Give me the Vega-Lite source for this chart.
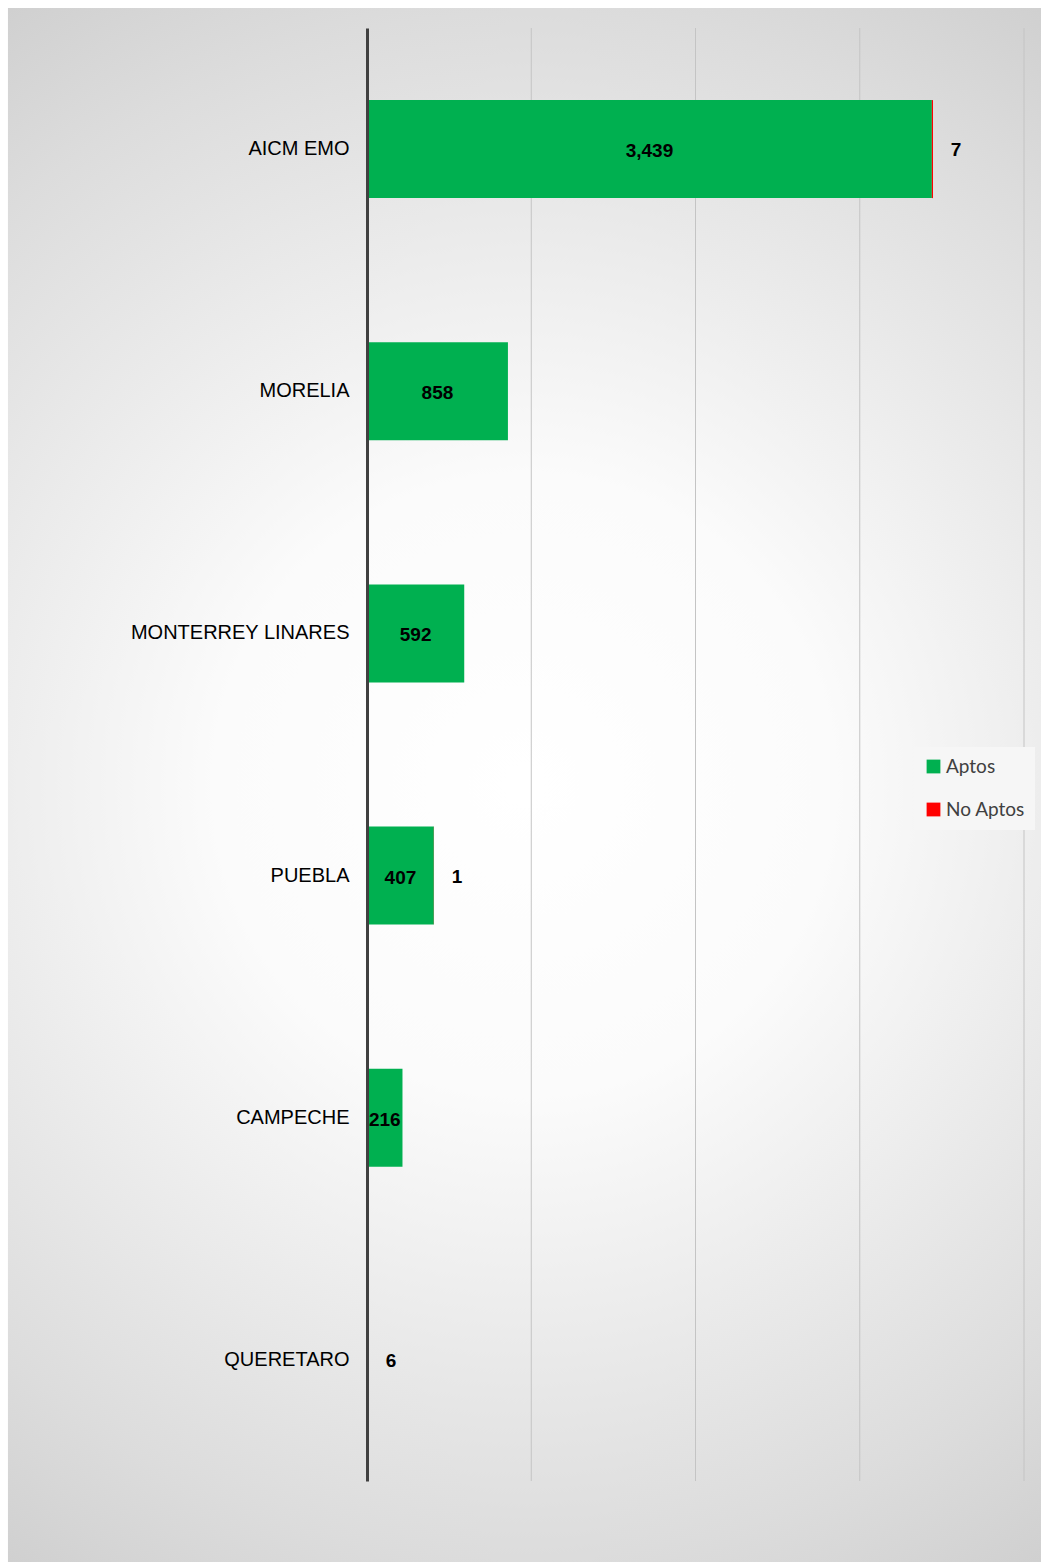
{
  "$schema": "https://vega.github.io/schema/vega-lite/v6.json",
  "width": 657,
  "height": 1453,
  "autosize": {"type": "none"},
  "padding": {"left": 367, "top": 28, "right": 17, "bottom": 81},
  "background": "#ffffff",
  "config": {"view": {"stroke": null}, "font": "Liberation Sans"},
  "datasets": {
    "main": [
      {"cat": "AICM EMO", "tipo": "Aptos", "valor": 3439},
      {"cat": "AICM EMO", "tipo": "No Aptos", "valor": 7},
      {"cat": "MORELIA", "tipo": "Aptos", "valor": 858},
      {"cat": "MORELIA", "tipo": "No Aptos", "valor": 0},
      {"cat": "MONTERREY LINARES", "tipo": "Aptos", "valor": 592},
      {"cat": "MONTERREY LINARES", "tipo": "No Aptos", "valor": 0},
      {"cat": "PUEBLA", "tipo": "Aptos", "valor": 407},
      {"cat": "PUEBLA", "tipo": "No Aptos", "valor": 1},
      {"cat": "CAMPECHE", "tipo": "Aptos", "valor": 216},
      {"cat": "CAMPECHE", "tipo": "No Aptos", "valor": 0},
      {"cat": "QUERETARO", "tipo": "Aptos", "valor": 6},
      {"cat": "QUERETARO", "tipo": "No Aptos", "valor": 0}
    ],
    "grid": [{"g": 1000}, {"g": 2000}, {"g": 3000}, {"g": 4000}]
  },
  "resolve": {"scale": {"x": "independent", "y": "independent"}},
  "layer": [
    {
      "data": {"values": [{}]},
      "mark": {
        "type": "rect",
        "color": {
          "gradient": "radial",
          "x1": 0.5, "y1": 0.5, "r1": 0,
          "x2": 0.5, "y2": 0.5, "r2": 0.71,
          "stops": [
            {"offset": 0, "color": "#ffffff"},
            {"offset": 0.28, "color": "#fbfbfb"},
            {"offset": 0.7, "color": "#dcdcdc"},
            {"offset": 1, "color": "#c3c3c3"}
          ]
        }
      },
      "encoding": {
        "x": {"datum": -2186, "type": "quantitative", "scale": {"domain": [0, 4000], "nice": false}, "axis": null},
        "x2": {"datum": 4104},
        "y": {"datum": 1.0138, "type": "quantitative", "scale": {"domain": [0, 1], "nice": false}, "axis": null},
        "y2": {"datum": -0.0558}
      }
    },
    {
      "data": {"name": "grid"},
      "mark": {"type": "rule", "color": "#c4c4c4", "strokeWidth": 1},
      "encoding": {
        "x": {"field": "g", "type": "quantitative", "scale": {"domain": [0, 4000], "nice": false}, "axis": null}
      }
    },
    {
      "data": {"name": "main"},
      "mark": {"type": "bar"},
      "encoding": {
        "x": {"field": "valor", "type": "quantitative", "stack": "zero", "scale": {"domain": [0, 4000], "nice": false}, "axis": null},
        "y": {
          "field": "cat", "type": "nominal",
          "scale": {"domain": ["AICM EMO", "MORELIA", "MONTERREY LINARES", "PUEBLA", "CAMPECHE", "QUERETARO"], "paddingInner": 0.5953, "paddingOuter": 0.2977},
          "axis": {
            "title": null, "ticks": false, "grid": false,
            "domainColor": "#404040", "domainWidth": 3,
            "labelFont": "Liberation Sans", "labelFontSize": 20, "labelColor": "#000000",
            "labelPadding": 18, "labelLimit": 400, "zindex": 1
          }
        },
        "color": {
          "field": "tipo", "type": "nominal",
          "scale": {"domain": ["Aptos", "No Aptos"], "range": ["#00B050", "#FF0000"]},
          "legend": {
            "title": null, "orient": "none", "legendX": 547, "legendY": 719,
            "fillColor": "#f6f6f6", "padding": 10, "rowPadding": 23,
            "symbolType": "square", "symbolSize": 190, "symbolStrokeWidth": 0,
            "labelFont": "Lato", "labelFontSize": 19, "labelColor": "#404040", "labelOffset": 3
          }
        }
      }
    },
    {
      "data": {"name": "main"},
      "transform": [{"filter": "datum.tipo === 'Aptos' && datum.valor >= 50"}],
      "mark": {"type": "text", "font": "Liberation Sans", "fontWeight": "bold", "fontSize": 19, "color": "#000000", "align": "center", "baseline": "middle", "dy": 2},
      "encoding": {
        "x": {"field": "valor", "type": "quantitative", "scale": {"domain": [0, 8000], "nice": false}, "axis": null},
        "y": {
          "field": "cat", "type": "nominal",
          "scale": {"domain": ["AICM EMO", "MORELIA", "MONTERREY LINARES", "PUEBLA", "CAMPECHE", "QUERETARO"], "paddingInner": 0.5953, "paddingOuter": 0.2977},
          "axis": null
        },
        "text": {"field": "valor", "type": "quantitative", "format": ","}
      }
    },
    {
      "data": {"name": "main"},
      "transform": [
        {"stack": "valor", "groupby": ["cat"], "sort": [{"field": "tipo", "order": "ascending"}], "as": ["v0", "v1"]},
        {"filter": "(datum.tipo === 'No Aptos' && datum.valor > 0) || (datum.tipo === 'Aptos' && datum.valor < 50)"}
      ],
      "mark": {"type": "text", "font": "Liberation Sans", "fontWeight": "bold", "fontSize": 19, "color": "#000000", "align": "center", "baseline": "middle", "dx": 23, "dy": 1},
      "encoding": {
        "x": {"field": "v1", "type": "quantitative", "scale": {"domain": [0, 4000], "nice": false}, "axis": null},
        "y": {
          "field": "cat", "type": "nominal",
          "scale": {"domain": ["AICM EMO", "MORELIA", "MONTERREY LINARES", "PUEBLA", "CAMPECHE", "QUERETARO"], "paddingInner": 0.5953, "paddingOuter": 0.2977},
          "axis": null
        },
        "text": {"field": "valor", "type": "quantitative", "format": ","}
      }
    }
  ]
}
